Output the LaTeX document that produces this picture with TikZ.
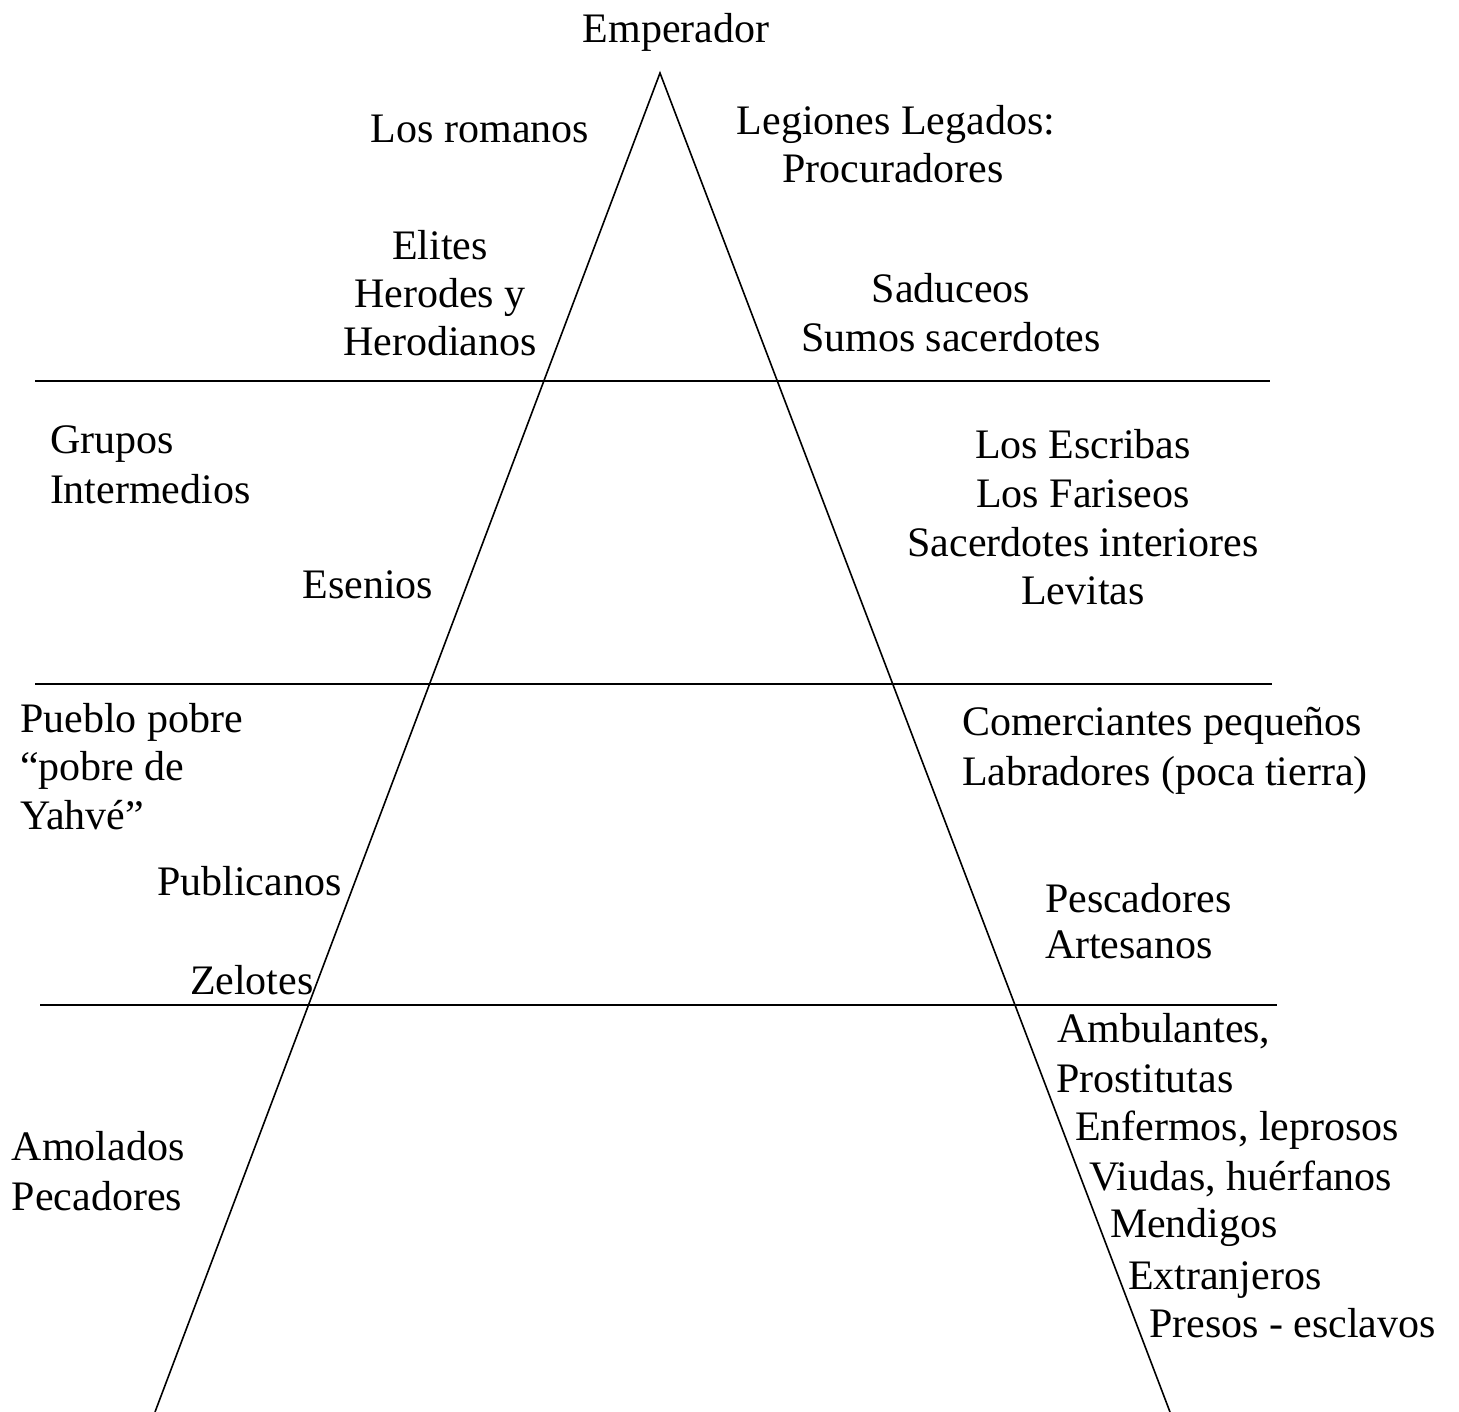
\documentclass[tikz,border=0pt]{standalone}
\usepackage{fontspec}
\setmainfont{Liberation Serif}
\begin{document}
\begin{tikzpicture}[x=1pt,y=-1pt,
  lbl/.style={inner sep=0pt,outer sep=0pt,font=\fontsize{42}{49}\selectfont},
  cb/.style={lbl,anchor=base},
  lb/.style={lbl,anchor=base west},
  ln/.style={line width=1.6pt}]
\useasboundingbox (0,0) rectangle (1459,1412);
% triangle and bands
\coordinate (apex) at (660,73);
\coordinate (bl) at (155,1412);
\coordinate (br) at (1170,1412);
\draw[ln] (bl) -- (apex) -- (br);
\coordinate (h1a) at (35,381);  \coordinate (h1b) at (1270,381);
\coordinate (h2a) at (35,684);  \coordinate (h2b) at (1272,684);
\coordinate (h3a) at (40,1005); \coordinate (h3b) at (1277,1005);
\draw[ln] (h1a) -- (h1b);
\draw[ln] (h2a) -- (h2b);
\draw[ln] (h3a) -- (h3b);
\begin{scope}[yshift=-3pt]
% top band
\node[cb] (emp) at (676,40) {Emperador};
\node[cb] (rom) at (480,140) {Los romanos};
\node[cb] (leg) at (896,132) {Legiones Legados:};
\node[cb] (pro) at (893,180) {Procuradores};
\node[cb] (eli) at (440,257) {Elites};
\node[cb] (her) at (440,305) {Herodes y};
\node[cb] (hdn) at (440,353) {Herodianos};
\node[cb] (sad) at (951,300) {Saduceos};
\node[cb] (sum) at (951,349) {Sumos sacerdotes};
% second band
\node[lb] (gru) at (50,450) {Grupos};
\node[lb] (int) at (50,500) {Intermedios};
\node[cb] (esc) at (1083,455) {Los Escribas};
\node[cb] (far) at (1083,504) {Los Fariseos};
\node[cb] (sac) at (1083,553) {Sacerdotes interiores};
\node[cb] (lev) at (1083,601) {Levitas};
\node[cb] (ese) at (368,595) {Esenios};
% third band
\node[lb] (pue) at (20,729) {Pueblo pobre};
\node[lb] (pdy) at (20,777) {“pobre de};
\node[lb] (yah) at (20,826) {Yahvé”};
\node[lb] (pub) at (157,892) {Publicanos};
\node[lb] (zel) at (190,991) {Zelotes};
\node[lb] (com) at (962,732) {Comerciantes pequeños};
\node[lb] (lab) at (962,782) {Labradores (poca tierra)};
\node[lb] (pes) at (1045,909) {Pescadores};
\node[lb] (art) at (1045,955) {Artesanos};
% bottom band
\node[lb] (amo) at (12,1157) {Amolados};
\node[lb] (pec) at (12,1207) {Pecadores};
\node[lb] (amb) at (1057,1039) {Ambulantes,};
\node[lb] (pros) at (1056,1089) {Prostitutas};
\node[lb] (enf) at (1075,1137) {Enfermos, leprosos};
\node[lb] (viu) at (1089,1187) {Viudas, huérfanos};
\node[lb] (men) at (1110,1234) {Mendigos};
\node[lb] (ext) at (1128,1286) {Extranjeros};
\node[lb] (pre) at (1149,1334) {Presos - esclavos};
\end{scope}
\end{tikzpicture}
\end{document}
